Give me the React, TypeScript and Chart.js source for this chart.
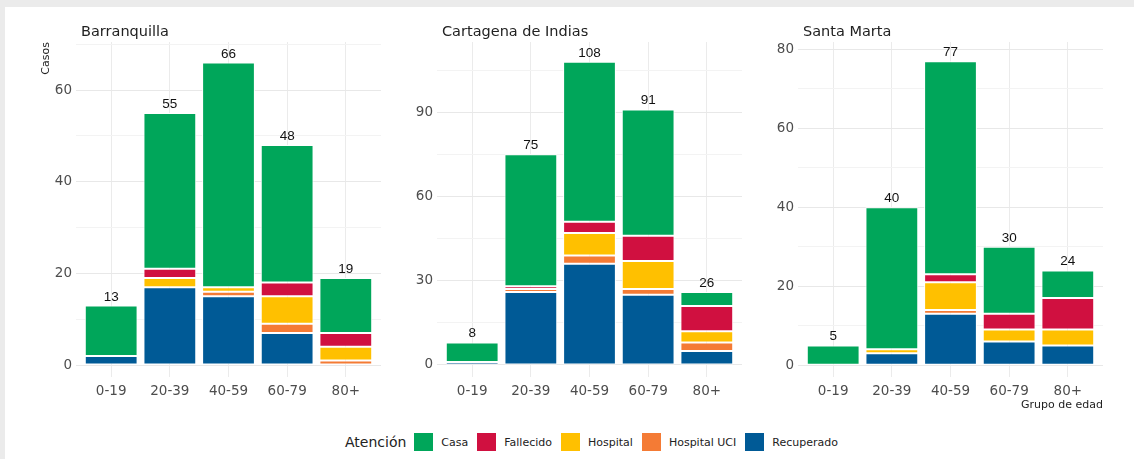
import React, { useEffect, useRef } from "react";
import { Chart, registerables } from "chart.js";
Chart.register(...registerables);

const categories = ["0-19", "20-39", "40-59", "60-79", "80+"];
const seriesNames = ["Recuperado", "Hospital UCI", "Hospital", "Fallecido", "Casa"];
const seriesColors = ["#005a96", "#f47b35", "#ffc000", "#d01040", "#00a65a"];
const legendOrder = ["Casa", "Fallecido", "Hospital", "Hospital UCI", "Recuperado"];

const barranquillaRecuperado = [2, 17, 15, 7, 0];
const barranquillaHospitalUCI = [0, 0, 1, 2, 1];
const barranquillaHospital = [0, 2, 1, 6, 3];
const barranquillaFallecido = [0, 2, 0, 3, 3];
const barranquillaCasa = [11, 34, 49, 30, 12];

const cartagenaRecuperado = [1, 26, 36, 25, 5];
const cartagenaHospitalUCI = [0, 1, 3, 2, 3];
const cartagenaHospital = [0, 0, 8, 10, 4];
const cartagenaFallecido = [0, 1, 4, 9, 9];
const cartagenaCasa = [7, 47, 57, 45, 5];

const santaMartaRecuperado = [0, 3, 13, 6, 5];
const santaMartaHospitalUCI = [0, 0, 1, 0, 0];
const santaMartaHospital = [0, 1, 7, 3, 4];
const santaMartaFallecido = [0, 0, 2, 4, 8];
const santaMartaCasa = [5, 36, 54, 17, 7];

const FONT = '"DejaVu Sans", sans-serif';
const PANEL_W = 305;
const AXIS_W = 46;
const PLOT_TOP = 42;
const PLOT_BOTTOM = 377;
const CANVAS_H = 410;

type PanelProps = {
  left: number;
  title: string;
  series: number[][];
  yMin: number;
  yMax: number;
  minorStep: number;
  majorStep: number;
};

function Panel({ left, title, series, yMin, yMax, minorStep, majorStep }: PanelProps) {
  const ref = useRef<HTMLCanvasElement>(null);
  useEffect(() => {
    const totals = categories.map((_, i) => series.reduce((s, arr) => s + arr[i], 0));
    const totalsPlugin = {
      id: "totals",
      afterDatasetsDraw(chart: any) {
        const { ctx } = chart;
        const xs = chart.scales.x;
        const ys = chart.scales.y;
        ctx.save();
        ctx.font = '13.5px "Liberation Sans", Arial, sans-serif';
        ctx.fillStyle = "#111111";
        ctx.textAlign = "center";
        ctx.textBaseline = "alphabetic";
        totals.forEach((t, i) => {
          ctx.fillText(String(t), xs.getPixelForValue(i), ys.getPixelForValue(t) - 5);
        });
        ctx.restore();
      },
    };
    const yTicks: number[] = [];
    for (let v = 0; v <= yMax + 1e-9; v += minorStep) yTicks.push(v);
    const chart = new Chart(ref.current!, {
      type: "bar",
      data: {
        datasets: seriesNames.map((name, k) => ({
          label: name,
          data: series[k].map((v, i) => ({ x: i, y: v === 0 ? null : v })),
          backgroundColor: seriesColors[k],
          borderColor: "#ffffff",
          borderWidth: 1,
          borderSkipped: false,
          barPercentage: 0.9,
          categoryPercentage: 1,
          stack: "s",
        })) as any,
      },
      options: {
        responsive: false,
        animation: false,
        layout: { padding: { top: PLOT_TOP, right: 4, left: 0, bottom: 0 } },
        plugins: { legend: { display: false }, tooltip: { enabled: false } },
        scales: {
          x: {
            type: "linear",
            min: -0.6,
            max: 4.6,
            offset: false,
            afterBuildTicks: (s: any) => {
              s.ticks = categories.map((_, i) => ({ value: i }));
            },
            afterFit: (s: any) => {
              s.height = CANVAS_H - PLOT_BOTTOM;
            },
            ticks: {
              callback: (v: any) => categories[v] ?? "",
              font: { family: FONT, size: 13.5 },
              color: "#4d4d4d",
              padding: 6,
              autoSkip: false,
              maxRotation: 0,
            },
            grid: { color: "#ebebeb", drawTicks: false, lineWidth: 1, offset: false },
            border: { display: false },
          },
          y: {
            type: "linear",
            stacked: true,
            min: yMin,
            max: yMax,
            afterBuildTicks: (s: any) => {
              s.ticks = yTicks.map((v) => ({ value: v }));
            },
            afterFit: (s: any) => {
              s.width = AXIS_W;
            },
            ticks: {
              callback: (v: any) => (Math.abs(v % majorStep) < 1e-9 ? String(v) : ""),
              font: { family: FONT, size: 13.5 },
              color: "#4d4d4d",
              padding: 4,
              autoSkip: false,
            },
            grid: {
              color: (c: any) =>
                c.tick && Math.abs(c.tick.value % majorStep) < 1e-9 ? "#e8e8e8" : "#f3f3f3",
              drawTicks: false,
              lineWidth: 1,
            },
            border: { display: false },
          },
        },
      } as any,
      plugins: [totalsPlugin],
    });
    return () => chart.destroy();
  }, []);
  return (
    <>
      <canvas
        ref={ref}
        width={AXIS_W + PANEL_W + 4}
        height={CANVAS_H}
        style={{ position: "absolute", left: left - AXIS_W, top: 0, width: AXIS_W + PANEL_W + 4, height: CANVAS_H }}
      />
      <div
        style={{
          position: "absolute",
          left: left + 5,
          top: 21,
          fontFamily: FONT,
          fontSize: 14.5,
          color: "#222222",
          lineHeight: "20px",
          whiteSpace: "nowrap",
        }}
      >
        {title}
      </div>
    </>
  );
}

export default function App() {
  const panels: PanelProps[] = [
    {
      left: 76,
      title: "Barranquilla",
      series: [barranquillaRecuperado, barranquillaHospitalUCI, barranquillaHospital, barranquillaFallecido, barranquillaCasa],
      yMin: -2.6,
      yMax: 70.5,
      minorStep: 10,
      majorStep: 20,
    },
    {
      left: 437,
      title: "Cartagena de Indias",
      series: [cartagenaRecuperado, cartagenaHospitalUCI, cartagenaHospital, cartagenaFallecido, cartagenaCasa],
      yMin: -4.3,
      yMax: 115,
      minorStep: 15,
      majorStep: 30,
    },
    {
      left: 798,
      title: "Santa Marta",
      series: [santaMartaRecuperado, santaMartaHospitalUCI, santaMartaHospital, santaMartaFallecido, santaMartaCasa],
      yMin: -3.0,
      yMax: 81.85,
      minorStep: 10,
      majorStep: 20,
    },
  ];
  return (
    <div style={{ position: "fixed", left: 0, top: 0, width: 1134, height: 459, background: "#ebebeb", overflow: "hidden" }}>
      <div style={{ position: "absolute", left: 5, top: 7, right: 0, bottom: 0, background: "#ffffff" }} />
      {panels.map((p) => (
        <Panel key={p.title} {...p} />
      ))}
      <div
        style={{
          position: "absolute",
          left: 45.5 - 30,
          top: PLOT_TOP + 30 - 7,
          width: 60,
          height: 14,
          transform: "rotate(-90deg)",
          transformOrigin: "30px 7px",
          textAlign: "right",
          fontFamily: FONT,
          fontSize: 11,
          lineHeight: "14px",
          color: "#222222",
        }}
      >
        Casos
      </div>
      <div
        style={{
          position: "absolute",
          right: 1134 - 1103,
          top: 398,
          fontFamily: FONT,
          fontSize: 11,
          lineHeight: "14px",
          color: "#222222",
          whiteSpace: "nowrap",
        }}
      >
        Grupo de edad
      </div>
      <div
        style={{
          position: "absolute",
          left: 345,
          top: 433,
          height: 18,
          display: "flex",
          alignItems: "center",
          fontFamily: FONT,
          whiteSpace: "nowrap",
        }}
      >
        <span style={{ fontSize: 14, color: "#222222", marginRight: 8 }}>Atención</span>
        {legendOrder.map((name) => (
          <React.Fragment key={name}>
            <span
              style={{
                display: "inline-block",
                width: 19,
                height: 18,
                background: seriesColors[seriesNames.indexOf(name)],
                marginRight: 8,
              }}
            />
            <span style={{ fontSize: 11, color: "#222222", marginRight: 9 }}>{name}</span>
          </React.Fragment>
        ))}
      </div>
    </div>
  );
}
